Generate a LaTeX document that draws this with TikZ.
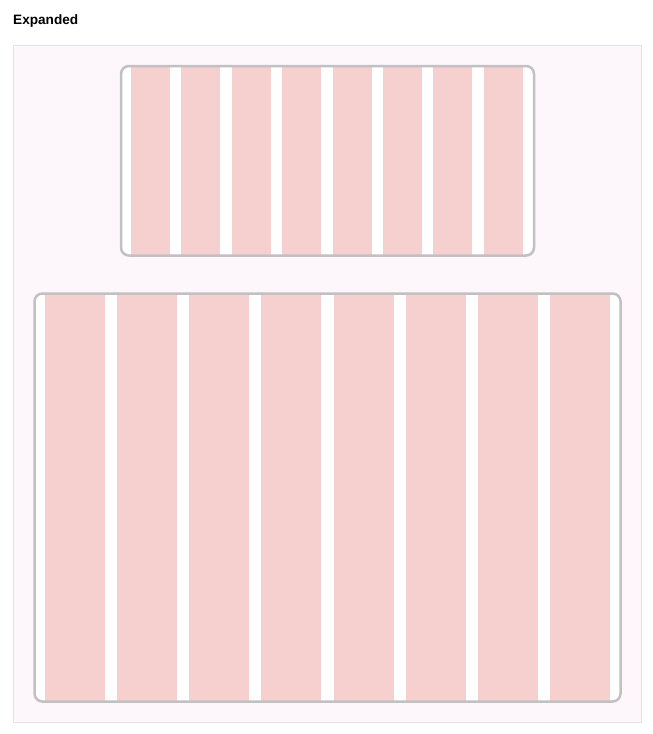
\documentclass[tikz,border=0pt]{standalone}
\usepackage{fontspec}
\setmainfont{Liberation Sans}
\definecolor{panelbg}{HTML}{FDF7FC}
\definecolor{panelline}{HTML}{E6E1E6}
\definecolor{colpink}{HTML}{F6CFCF}
\definecolor{boxline}{HTML}{C2C0C2}
\tikzset{
  panel/.style={fill=panelbg, draw=panelline, line width=1},
  frame/.style={draw=boxline, line width=2.5, rounded corners=8},
  column/.style={fill=colpink}
}
\begin{document}
\begin{tikzpicture}[x=1pt,y=-1pt]
    \useasboundingbox (0,0) rectangle (653,734);
    \draw [panel] (13.5,45.5) rectangle (641.5,722.5);
    \node [anchor=base west, inner sep=0, font=\bfseries\fontsize{13.6}{16}\selectfont] (title) at (13,24) {Expanded};
    % small window
    \fill [white, rounded corners=8] (121,66) rectangle (534,255.5);
    \foreach \i in {0,...,7}
        \fill [column] (131+50.4*\i,67) rectangle ++(39,188.5);
    \draw [frame] (121,66) rectangle (534,255.5);
    % large window
    \fill [white, rounded corners=8] (34.5,293.5) rectangle (620.5,701.5);
    \foreach \i in {0,...,7}
        \fill [column] (45+72.15*\i,294.5) rectangle ++(60,407);
    \draw [frame] (34.5,293.5) rectangle (620.5,701.5);
\end{tikzpicture}
\end{document}
